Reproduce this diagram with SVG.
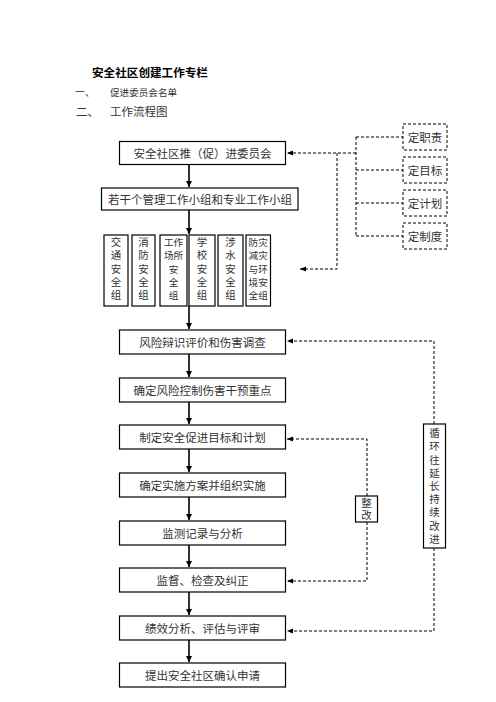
<svg xmlns="http://www.w3.org/2000/svg" width="496" height="702" viewBox="0 0 496 702">
<style>
text{font-family:"Noto Sans CJK SC","Noto Sans",sans-serif;fill:#333;font-size:11.5px}
.t{font-weight:bold;fill:#000;font-size:11.6px}
.c{text-anchor:middle;dominant-baseline:central}
.v{writing-mode:vertical-rl;font-size:10.5px;letter-spacing:2.7px}
.r{font-size:9.6px}
.box{fill:#fff;stroke:#000;stroke-width:1.2}
.dbox{fill:#fff;stroke:#000;stroke-width:1;stroke-dasharray:3 2}
.sol{stroke:#000;stroke-width:1.6;fill:none}
.dash{stroke:#000;stroke-width:1;fill:none;stroke-dasharray:3 2}
</style>
<defs>
<marker id="ah" viewBox="0 0 10 10" refX="10" refY="5" markerWidth="4" markerHeight="4" orient="auto" markerUnits="strokeWidth"><path d="M0,0L10,5L0,10z" fill="#000"/></marker>
<marker id="ahd" viewBox="0 0 10 10" refX="10" refY="5" markerWidth="6" markerHeight="6" orient="auto" markerUnits="strokeWidth"><path d="M0,1L10,5L0,9z" fill="#000"/></marker>
</defs>
<rect width="496" height="702" fill="#fff"/>
<g id="header">
<text class="t" x="92" y="77">安全社区创建工作专栏</text>
<text x="75" y="96" style="font-size:10px">一、</text>
<text x="110" y="96" style="font-size:9.6px">促进委员会名单</text>
<text x="76" y="116">二、</text>
<text x="110" y="116">工作流程图</text>
</g>
<g id="connectors">
<path class="sol" d="M189,165V187" marker-end="url(#ah)"/>
<path class="sol" d="M189,210V234" marker-end="url(#ah)"/>
<path class="sol" d="M189,306V329" marker-end="url(#ah)"/>
<path class="sol" d="M189,354V377" marker-end="url(#ah)"/>
<path class="sol" d="M189,402V424" marker-end="url(#ah)"/>
<path class="sol" d="M189,449V472" marker-end="url(#ah)"/>
<path class="sol" d="M189,497V520" marker-end="url(#ah)"/>
<path class="sol" d="M189,545V567" marker-end="url(#ah)"/>
<path class="sol" d="M189,592V615" marker-end="url(#ah)"/>
<path class="sol" d="M189,640V662" marker-end="url(#ah)"/>
<path class="dash" d="M356,137V236M356,137H403M356,170H403M356,203H403M356,236H403"/>
<path class="dash" d="M356,153H287" marker-end="url(#ahd)"/>
<path class="dash" d="M337,153V269H300" marker-end="url(#ahd)"/>
<path class="dash" d="M434,424V341H287" marker-end="url(#ahd)"/>
<path class="dash" d="M434,548V631H287" marker-end="url(#ahd)"/>
<path class="dash" d="M367,496V439H287" marker-end="url(#ahd)"/>
<path class="dash" d="M367,522V581H287" marker-end="url(#ahd)"/>
</g>
<g id="committee"><rect class="box" x="119.5" y="141.5" width="166" height="23"/><text class="c" x="202.5" y="153">安全社区推（促）进委员会</text></g>
<g id="groups"><rect class="box" x="101.5" y="188" width="196.5" height="22"/><text class="c" x="200" y="199">若干个管理工作小组和专业工作小组</text></g>
<g id="g1"><rect class="box" x="104" y="235" width="24" height="71"/><text class="v" x="116" y="237">交通安全组</text></g>
<g id="g2"><rect class="box" x="132" y="235" width="23" height="71"/><text class="v" x="143.5" y="237">消防安全组</text></g>
<g id="g3"><rect class="box" x="160" y="235" width="27" height="71"/><text class="c r" x="173.5"><tspan x="173.5" y="242">工作</tspan><tspan x="173.5" y="255.3">场所</tspan><tspan x="173.5" y="268.6">安</tspan><tspan x="173.5" y="281.9">全</tspan><tspan x="173.5" y="295.2">组</tspan></text></g>
<g id="g4"><rect class="box" x="189" y="235" width="26" height="71"/><text class="v" x="202" y="237">学校安全组</text></g>
<g id="g5"><rect class="box" x="218" y="235" width="25" height="71"/><text class="v" x="230.5" y="237">涉水安全组</text></g>
<g id="g6"><rect class="box" x="246" y="235" width="24.5" height="71"/><text class="c r" x="258.2"><tspan x="258.2" y="242">防灾</tspan><tspan x="258.2" y="255.3">减灾</tspan><tspan x="258.2" y="268.6">与环</tspan><tspan x="258.2" y="281.9">境安</tspan><tspan x="258.2" y="295.2">全组</tspan></text></g>
<g id="d1"><rect class="dbox" x="403" y="124" width="44" height="26"/><text class="c" x="425" y="137">定职责</text></g>
<g id="d2"><rect class="dbox" x="403" y="157" width="44" height="26"/><text class="c" x="425" y="170">定目标</text></g>
<g id="d3"><rect class="dbox" x="403" y="190" width="44" height="26"/><text class="c" x="425" y="203">定计划</text></g>
<g id="d4"><rect class="dbox" x="403" y="223" width="44" height="26"/><text class="c" x="425" y="236">定制度</text></g>
<g id="s1"><rect class="box" x="119.5" y="330" width="166" height="24"/><text class="c" x="202.5" y="342">风险辩识评价和伤害调查</text></g>
<g id="s2"><rect class="box" x="119.5" y="378" width="166" height="24"/><text class="c" x="202.5" y="390">确定风险控制伤害干预重点</text></g>
<g id="s3"><rect class="box" x="119.5" y="425" width="166" height="24"/><text class="c" x="202.5" y="437">制定安全促进目标和计划</text></g>
<g id="s4"><rect class="box" x="119.5" y="473" width="166" height="24"/><text class="c" x="202.5" y="485">确定实施方案并组织实施</text></g>
<g id="s5"><rect class="box" x="119.5" y="521" width="166" height="24"/><text class="c" x="202.5" y="533">监测记录与分析</text></g>
<g id="s6"><rect class="box" x="119.5" y="568" width="166" height="24"/><text class="c" x="202.5" y="580">监督、检查及纠正</text></g>
<g id="s7"><rect class="box" x="119.5" y="616" width="166" height="24"/><text class="c" x="202.5" y="628">绩效分析、评估与评审</text></g>
<g id="s8"><rect class="box" x="119.5" y="663" width="166" height="24"/><text class="c" x="202.5" y="675">提出安全社区确认申请</text></g>
<g id="fix"><rect class="box" x="355.5" y="496" width="22" height="26"/><text class="v" x="366.5" y="498" style="letter-spacing:1.5px">整改</text></g>
<g id="loop"><rect class="box" x="423.5" y="424" width="22" height="124"/><text class="v" x="434.5" y="428">循环往延长持续改进</text></g>
</svg>
